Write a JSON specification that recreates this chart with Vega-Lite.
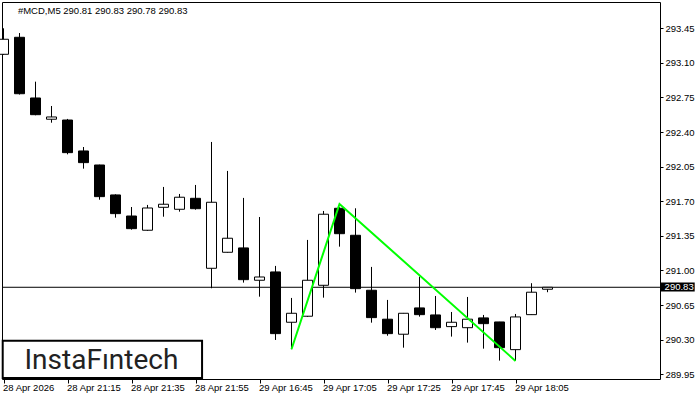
{
  "$schema": "https://vega.github.io/schema/vega-lite/v6.json",
  "autosize": "none",
  "width": 658,
  "height": 377,
  "padding": {"left": 2, "top": 2, "right": 40, "bottom": 21},
  "background": "white",
  "config": {
    "view": {"stroke": "black", "strokeWidth": 1},
    "font": "Liberation Sans",
    "scale": {"continuousPadding": 0},
    "axis": {"labelFont": "Liberation Sans", "labelFontSize": 9.5, "labelColor": "black", "tickColor": "black", "domain": false, "grid": false, "title": null, "labelOverlap": false, "labelFlush": false}
  },
  "datasets": {
    "candles": [
      {"idx": 0, "time": "28 Apr 20:55", "open": 293.187, "high": 293.45, "low": 293.18, "close": 293.339},
      {"idx": 1, "time": "28 Apr 21:00", "open": 293.359, "high": 293.402, "low": 292.78, "close": 292.788},
      {"idx": 2, "time": "28 Apr 21:05", "open": 292.745, "high": 292.91, "low": 292.57, "close": 292.576},
      {"idx": 3, "time": "28 Apr 21:10", "open": 292.53, "high": 292.664, "low": 292.495, "close": 292.553},
      {"idx": 4, "time": "28 Apr 21:15", "open": 292.522, "high": 292.533, "low": 292.175, "close": 292.192},
      {"idx": 5, "time": "28 Apr 21:20", "open": 292.209, "high": 292.249, "low": 292.03, "close": 292.091},
      {"idx": 6, "time": "28 Apr 21:25", "open": 292.067, "high": 292.07, "low": 291.716, "close": 291.747},
      {"idx": 7, "time": "28 Apr 21:30", "open": 291.764, "high": 291.77, "low": 291.534, "close": 291.575},
      {"idx": 8, "time": "28 Apr 21:35", "open": 291.551, "high": 291.642, "low": 291.413, "close": 291.423},
      {"idx": 9, "time": "28 Apr 21:40", "open": 291.407, "high": 291.663, "low": 291.4, "close": 291.632},
      {"idx": 10, "time": "28 Apr 21:45", "open": 291.639, "high": 291.845, "low": 291.544, "close": 291.67},
      {"idx": 11, "time": "28 Apr 21:50", "open": 291.619, "high": 291.774, "low": 291.595, "close": 291.741},
      {"idx": 12, "time": "28 Apr 21:55", "open": 291.73, "high": 291.865, "low": 291.615, "close": 291.625},
      {"idx": 13, "time": "29 Apr 16:30", "open": 291.022, "high": 292.3, "low": 290.82, "close": 291.69},
      {"idx": 14, "time": "29 Apr 16:35", "open": 291.184, "high": 292.007, "low": 291.18, "close": 291.326},
      {"idx": 15, "time": "29 Apr 16:40", "open": 291.228, "high": 291.734, "low": 290.877, "close": 290.907},
      {"idx": 16, "time": "29 Apr 16:45", "open": 290.901, "high": 291.541, "low": 290.735, "close": 290.934},
      {"idx": 17, "time": "29 Apr 16:50", "open": 290.985, "high": 291.046, "low": 290.297, "close": 290.361},
      {"idx": 18, "time": "29 Apr 16:55", "open": 290.476, "high": 290.722, "low": 290.203, "close": 290.567},
      {"idx": 19, "time": "29 Apr 17:00", "open": 290.537, "high": 291.309, "low": 290.53, "close": 290.901},
      {"idx": 20, "time": "29 Apr 17:05", "open": 290.85, "high": 291.602, "low": 290.725, "close": 291.569},
      {"idx": 21, "time": "29 Apr 17:10", "open": 291.629, "high": 291.64, "low": 291.241, "close": 291.372},
      {"idx": 22, "time": "29 Apr 17:15", "open": 291.356, "high": 291.629, "low": 290.776, "close": 290.816},
      {"idx": 23, "time": "29 Apr 17:20", "open": 290.8, "high": 291.036, "low": 290.472, "close": 290.523},
      {"idx": 24, "time": "29 Apr 17:25", "open": 290.507, "high": 290.702, "low": 290.34, "close": 290.361},
      {"idx": 25, "time": "29 Apr 17:30", "open": 290.355, "high": 290.57, "low": 290.219, "close": 290.567},
      {"idx": 26, "time": "29 Apr 17:35", "open": 290.621, "high": 290.937, "low": 290.533, "close": 290.553},
      {"idx": 27, "time": "29 Apr 17:40", "open": 290.55, "high": 290.742, "low": 290.398, "close": 290.421},
      {"idx": 28, "time": "29 Apr 17:45", "open": 290.432, "high": 290.58, "low": 290.331, "close": 290.476},
      {"idx": 29, "time": "29 Apr 17:50", "open": 290.421, "high": 290.732, "low": 290.27, "close": 290.507},
      {"idx": 30, "time": "29 Apr 17:55", "open": 290.52, "high": 290.55, "low": 290.209, "close": 290.462},
      {"idx": 31, "time": "29 Apr 18:00", "open": 290.479, "high": 290.48, "low": 290.088, "close": 290.219},
      {"idx": 32, "time": "29 Apr 18:05", "open": 290.199, "high": 290.56, "low": 290.085, "close": 290.53},
      {"idx": 33, "time": "29 Apr 18:10", "open": 290.553, "high": 290.871, "low": 290.55, "close": 290.78},
      {"idx": 34, "time": "29 Apr 18:15", "open": 290.81, "high": 290.83, "low": 290.78, "close": 290.83}
    ],
    "pattern": [
      {"idx": 18, "price": 290.203},
      {"idx": 21, "price": 291.673},
      {"idx": 32, "price": 290.085}
    ],
    "one": [{}]
  },
  "layer": [
    {
      "data": {"name": "candles"},
      "mark": {"type": "rule", "color": "black", "strokeWidth": 1},
      "encoding": {
        "x": {
          "field": "idx",
          "type": "quantitative",
          "scale": {"domain": [-0.094, 41.031], "nice": false, "zero": false, "padding": 0},
          "axis": {
            "values": [0, 4, 8, 12, 16, 20, 24, 28, 32],
            "labelExpr": "['28 Apr 2026','28 Apr 21:15','28 Apr 21:35','28 Apr 21:55','29 Apr 16:45','29 Apr 17:05','29 Apr 17:25','29 Apr 17:45','29 Apr 18:05'][round(datum.value/4)]",
            "labelAlign": "left",
            "labelOffset": -1,
            "labelPadding": -1,
            "tickSize": 4,
            "labelFlush": false,
            "labelOverlap": false,
            "labelBound": false
          }
        },
        "y": {
          "field": "low",
          "type": "quantitative",
          "scale": {"domain": [289.902, 293.716], "nice": false, "zero": false, "padding": 0},
          "axis": {
            "orient": "right",
            "values": [289.95, 290.3, 290.65, 291.0, 291.35, 291.7, 292.05, 292.4, 292.75, 293.1, 293.45],
            "format": ".2f",
            "tickSize": 3,
            "labelPadding": 2,
            "labelFlush": false,
            "labelOverlap": false
          }
        },
        "y2": {"field": "high"}
      }
    },
    {
      "data": {"name": "one"},
      "mark": {"type": "rule", "color": "black", "strokeWidth": 1},
      "encoding": {"y": {"datum": 290.83, "type": "quantitative", "scale": {"domain": [289.902, 293.716], "nice": false, "zero": false, "padding": 0},
          "axis": {"orient": "right", "values": [289.95, 290.3, 290.65, 291.0, 291.35, 291.7, 292.05, 292.4, 292.75, 293.1, 293.45], "format": ".2f", "tickSize": 3, "labelPadding": 2, "labelFlush": false, "labelOverlap": false}}}
    },
    {
      "data": {"name": "candles"},
      "mark": {"type": "bar", "size": 10, "stroke": "black", "strokeWidth": 1},
      "encoding": {
        "x": {"field": "idx", "type": "quantitative", "scale": {"domain": [-0.094, 41.031], "nice": false, "zero": false, "padding": 0}},
        "y": {"field": "open", "type": "quantitative", "scale": {"domain": [289.902, 293.716], "nice": false, "zero": false, "padding": 0},
          "axis": {"orient": "right", "values": [289.95, 290.3, 290.65, 291.0, 291.35, 291.7, 292.05, 292.4, 292.75, 293.1, 293.45], "format": ".2f", "tickSize": 3, "labelPadding": 2, "labelFlush": false, "labelOverlap": false}},
        "y2": {"field": "close"},
        "fill": {"condition": {"test": "datum.close >= datum.open", "value": "white"}, "value": "black"}
      }
    },
    {
      "data": {"name": "pattern"},
      "mark": {"type": "line", "color": "#00ff00", "strokeWidth": 2},
      "encoding": {
        "x": {"field": "idx", "type": "quantitative", "scale": {"domain": [-0.094, 41.031], "nice": false, "zero": false, "padding": 0}},
        "y": {"field": "price", "type": "quantitative", "scale": {"domain": [289.902, 293.716], "nice": false, "zero": false, "padding": 0},
          "axis": {"orient": "right", "values": [289.95, 290.3, 290.65, 291.0, 291.35, 291.7, 292.05, 292.4, 292.75, 293.1, 293.45], "format": ".2f", "tickSize": 3, "labelPadding": 2, "labelFlush": false, "labelOverlap": false}}
      }
    },
    {
      "data": {"name": "one"},
      "mark": {"type": "text", "text": "#MCD,M5  290.81 290.83 290.78 290.83", "color": "black", "align": "left", "baseline": "alphabetic", "font": "Liberation Sans", "fontSize": 9.5},
      "encoding": {
        "x": {"datum": 0.9, "type": "quantitative", "scale": {"domain": [-0.094, 41.031], "nice": false, "zero": false, "padding": 0}},
        "y": {"datum": 293.595, "type": "quantitative", "scale": {"domain": [289.902, 293.716], "nice": false, "zero": false, "padding": 0},
          "axis": {"orient": "right", "values": [289.95, 290.3, 290.65, 291.0, 291.35, 291.7, 292.05, 292.4, 292.75, 293.1, 293.45], "format": ".2f", "tickSize": 3, "labelPadding": 2, "labelFlush": false, "labelOverlap": false}}
      }
    },
    {
      "data": {"name": "one"},
      "mark": {"type": "rect", "fill": "black"},
      "encoding": {
        "x": {"datum": 41.05, "type": "quantitative", "scale": {"domain": [-0.094, 41.031], "nice": false, "zero": false, "padding": 0}},
        "x2": {"datum": 43.2},
        "y": {"datum": 290.877, "type": "quantitative", "scale": {"domain": [289.902, 293.716], "nice": false, "zero": false, "padding": 0},
          "axis": {"orient": "right", "values": [289.95, 290.3, 290.65, 291.0, 291.35, 291.7, 292.05, 292.4, 292.75, 293.1, 293.45], "format": ".2f", "tickSize": 3, "labelPadding": 2, "labelFlush": false, "labelOverlap": false}},
        "y2": {"datum": 290.786}
      }
    },
    {
      "data": {"name": "one"},
      "mark": {"type": "text", "text": "290.83", "color": "white", "align": "left", "baseline": "middle", "font": "Liberation Sans", "fontSize": 9.5},
      "encoding": {
        "x": {"datum": 41.32, "type": "quantitative", "scale": {"domain": [-0.094, 41.031], "nice": false, "zero": false, "padding": 0}},
        "y": {"datum": 290.83, "type": "quantitative", "scale": {"domain": [289.902, 293.716], "nice": false, "zero": false, "padding": 0},
          "axis": {"orient": "right", "values": [289.95, 290.3, 290.65, 291.0, 291.35, 291.7, 292.05, 292.4, 292.75, 293.1, 293.45], "format": ".2f", "tickSize": 3, "labelPadding": 2, "labelFlush": false, "labelOverlap": false}}
      }
    },
    {
      "data": {"name": "one"},
      "mark": {"type": "rect", "fill": "white", "stroke": "black", "strokeWidth": 2},
      "encoding": {
        "x": {"datum": -0.05, "type": "quantitative", "scale": {"domain": [-0.094, 41.031], "nice": false, "zero": false, "padding": 0}},
        "x2": {"datum": 12.41},
        "y": {"datum": 290.29, "type": "quantitative", "scale": {"domain": [289.902, 293.716], "nice": false, "zero": false, "padding": 0},
          "axis": {"orient": "right", "values": [289.95, 290.3, 290.65, 291.0, 291.35, 291.7, 292.05, 292.4, 292.75, 293.1, 293.45], "format": ".2f", "tickSize": 3, "labelPadding": 2, "labelFlush": false, "labelOverlap": false}},
        "y2": {"datum": 289.912}
      }
    },
    {
      "data": {"name": "one"},
      "mark": {"type": "text", "text": "InstaFıntech", "color": "#222222", "align": "center", "baseline": "alphabetic", "font": "Roboto", "fontSize": 28, "fontWeight": 400},
      "encoding": {
        "x": {"datum": 6.12, "type": "quantitative", "scale": {"domain": [-0.094, 41.031], "nice": false, "zero": false, "padding": 0}},
        "y": {"datum": 290.004, "type": "quantitative", "scale": {"domain": [289.902, 293.716], "nice": false, "zero": false, "padding": 0},
          "axis": {"orient": "right", "values": [289.95, 290.3, 290.65, 291.0, 291.35, 291.7, 292.05, 292.4, 292.75, 293.1, 293.45], "format": ".2f", "tickSize": 3, "labelPadding": 2, "labelFlush": false, "labelOverlap": false}}
      }
    }
  ]
}
